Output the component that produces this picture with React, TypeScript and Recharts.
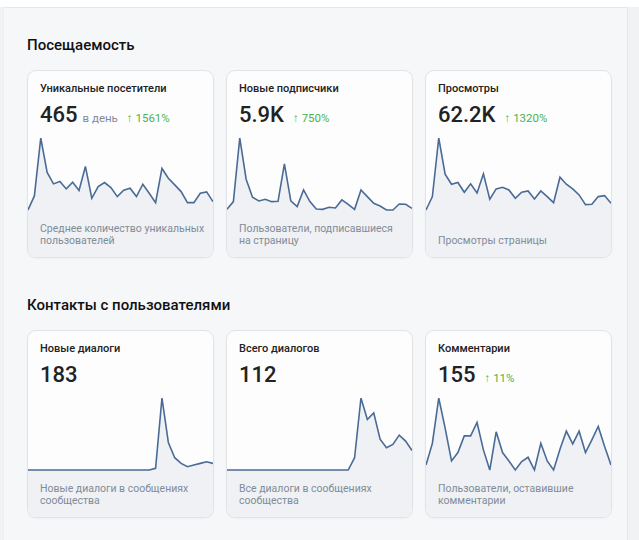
import React from 'react';
import { AreaChart, Area, XAxis, YAxis } from 'recharts';

// Daily values (30 days each)
const uniqueVisitors = [10, 52, 225, 122, 88, 95, 73, 93, 68, 140, 45, 80, 92, 77, 50, 69, 75, 50, 87, 60, 32, 134, 105, 85, 65, 32, 32, 60, 64, 35];
const newSubscribers = [12, 35, 225, 102, 48, 37, 42, 35, 36, 148, 37, 20, 70, 35, 13, 12, 18, 16, 40, 27, 12, 70, 50, 30, 22, 10, 10, 28, 27, 15];
const pageViews = [10, 50, 225, 117, 87, 92, 63, 88, 61, 118, 42, 73, 78, 70, 45, 63, 67, 43, 67, 50, 32, 108, 87, 73, 55, 26, 27, 50, 53, 30];
const newDialogs = [0, 0, 0, 0, 0, 0, 0, 0, 0, 0, 0, 0, 0, 0, 0, 0, 0, 0, 0, 0, 5, 217, 83, 37, 20, 10, 15, 20, 25, 20];
const totalDialogs = [0, 0, 0, 0, 0, 0, 0, 0, 0, 0, 0, 0, 0, 0, 0, 0, 0, 0, 0, 0, 37, 217, 152, 172, 93, 67, 77, 105, 87, 59];
const comments = [25, 90, 225, 135, 37, 62, 112, 112, 152, 70, 10, 124, 62, 37, 10, 35, 48, 10, 90, 37, 10, 72, 126, 88, 126, 62, 100, 140, 80, 25];

const FONT = 'Roboto, "Noto Sans", sans-serif';
const CARD_W = 187;
const CARD_H = 188;
const CHART_TOP = 65;
const LINE_SPAN = 72; // px between max and min of each sparkline

interface StatCardProps {
  title: string;
  value: string;
  unit?: string;
  growth?: string;
  caption: string[];
  values: number[];
}

const StatCard: React.FC<StatCardProps> = ({ title, value, unit, growth, caption, values }) => {
  const data = values.map((v, i) => ({ day: i + 1, value: v }));
  const max = Math.max(...values);
  const min = Math.min(...values);
  const chartH = CARD_H - 2 - CHART_TOP;
  const plotH = chartH - 2;
  // stretch the domain so the area fill runs down to the card bottom
  const lo = max - ((max - min) * plotH) / LINE_SPAN;

  return (
    <div
      style={{
        position: 'relative',
        width: CARD_W,
        height: CARD_H,
        boxSizing: 'border-box',
        border: '1px solid #e1e3e7',
        borderRadius: 9,
        background: '#fdfdfe',
        overflow: 'hidden',
        boxShadow: '0 1px 2px rgba(0,0,0,0.03)',
      }}
    >
      <div style={{ position: 'absolute', left: 0, top: CHART_TOP }}>
        <AreaChart width={CARD_W - 2} height={chartH} data={data} margin={{ top: 2, right: 0, bottom: 0, left: 0 }}>
          <XAxis dataKey="day" hide />
          <YAxis hide domain={[lo, max]} allowDataOverflow />
          <Area
            type="linear"
            dataKey="value"
            baseValue="dataMin"
            stroke="#4a6b96"
            strokeWidth={1.6}
            fill="#eff1f4"
            fillOpacity={1}
            dot={false}
            activeDot={false}
            isAnimationActive={false}
          />
        </AreaChart>
      </div>
      <div style={{ position: 'absolute', left: 12, top: 11, fontSize: 11, lineHeight: '14px', fontWeight: 500, color: '#222', whiteSpace: 'nowrap' }}>
        {title}
      </div>
      <div style={{ position: 'absolute', left: 12, top: 31, display: 'flex', alignItems: 'baseline', whiteSpace: 'nowrap' }}>
        <span style={{ fontSize: 22, lineHeight: '26px', fontWeight: 500, color: '#222' }}>{value}</span>
        {unit && <span style={{ fontSize: 11.5, color: '#818c99', marginLeft: 5 }}>{unit}</span>}
        {growth && (
          <span style={{ fontSize: 11.5, color: '#4bb34b', marginLeft: 9 }}>
            <b style={{ fontWeight: 700 }}>↑</b> {growth}
          </span>
        )}
      </div>
      <div style={{ position: 'absolute', left: 12, bottom: 10, fontSize: 10.5, lineHeight: '12px', color: '#818c99', whiteSpace: 'nowrap' }}>
        {caption.map((line) => (
          <div key={line}>{line}</div>
        ))}
      </div>
    </div>
  );
};

const Heading: React.FC<{ top: number; children: React.ReactNode }> = ({ top, children }) => (
  <div style={{ position: 'absolute', left: 27, top, fontSize: 15, lineHeight: '20px', fontWeight: 500, color: '#111' }}>
    {children}
  </div>
);

const Row: React.FC<{ top: number; children: React.ReactNode }> = ({ top, children }) => (
  <div style={{ position: 'absolute', left: 27, top, display: 'flex', gap: 12 }}>{children}</div>
);

export default function App() {
  return (
    <div
      style={{
        position: 'absolute',
        left: 0,
        top: 0,
        width: 639,
        height: 540,
        overflow: 'hidden',
        background: '#f1f2f4',
        fontFamily: FONT,
      }}
    >
      <div style={{ position: 'absolute', left: 0, top: 0, width: 639, height: 7, background: '#ffffff' }} />
      <div
        style={{
          position: 'absolute',
          left: 3,
          top: 7,
          width: 625,
          height: 540,
          boxSizing: 'border-box',
          background: '#f6f7f9',
          borderTop: '1px solid #e6e7ea',
          borderLeft: '1px solid #eceef0',
          borderRight: '1px solid #e6e7ea',
        }}
      />
      <Heading top={35}>Посещаемость</Heading>
      <Row top={70}>
        <StatCard title="Уникальные посетители" value="465" unit="в день" growth="1561%" caption={['Среднее количество уникальных', 'пользователей']} values={uniqueVisitors} />
        <StatCard title="Новые подписчики" value="5.9K" growth="750%" caption={['Пользователи, подписавшиеся', 'на страницу']} values={newSubscribers} />
        <StatCard title="Просмотры" value="62.2K" growth="1320%" caption={['Просмотры страницы']} values={pageViews} />
      </Row>
      <Heading top={295}>Контакты с пользователями</Heading>
      <Row top={330}>
        <StatCard title="Новые диалоги" value="183" caption={['Новые диалоги в сообщениях', 'сообщества']} values={newDialogs} />
        <StatCard title="Всего диалогов" value="112" caption={['Все диалоги в сообщениях', 'сообщества']} values={totalDialogs} />
        <StatCard title="Комментарии" value="155" growth="11%" caption={['Пользователи, оставившие', 'комментарии']} values={comments} />
      </Row>
    </div>
  );
}
